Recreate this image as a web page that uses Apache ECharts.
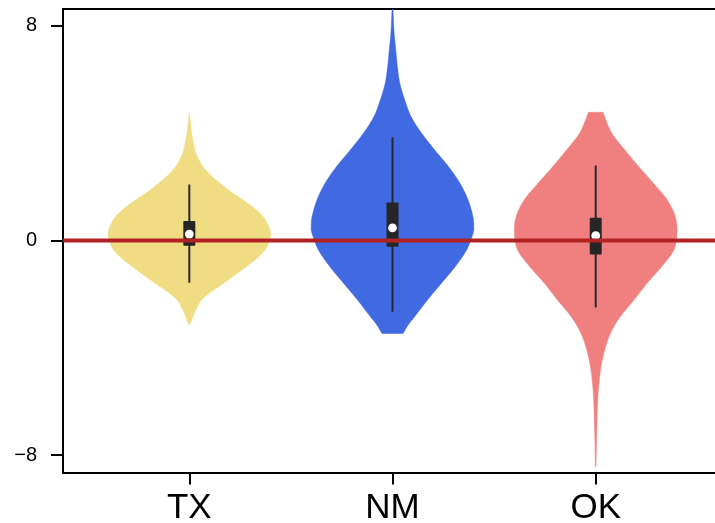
<!DOCTYPE html>
<html>
<head>
<meta charset="utf-8">
<script src="https://cdn.jsdelivr.net/npm/echarts@6/dist/echarts.min.js"></script>
<style>html,body{margin:0;padding:0;background:#fff;}#chart{width:715px;height:523px;}</style>
</head>
<body>
<div id="chart"></div>
<script>
// ---------- data ----------
const categories = ['TX', 'NM', 'OK'];
const yTicks = [-8, 0, 8];
const referenceValue = 0;

// violin outlines: value levels (top -> bottom) and relative density (1 = widest)
const txLevels  = [4.80, 4.49, 3.99, 3.37, 3.06, 2.75, 2.44, 2.13, 1.82, 1.51, 1.20, 0.88, 0.57, 0.26, -0.05, -0.36, -0.67, -0.98, -1.29, -1.60, -1.91, -2.22, -2.47, -2.72, -2.97, -3.16];
const txDensity = [0.00, 0.01, 0.03, 0.07, 0.11, 0.17, 0.26, 0.38, 0.51, 0.66, 0.80, 0.91, 0.97, 1.00, 0.98, 0.93, 0.83, 0.70, 0.56, 0.42, 0.27, 0.15, 0.10, 0.06, 0.03, 0.00];

const nmLevels  = [8.62, 8.34, 7.72, 7.10, 6.48, 5.86, 5.24, 4.61, 3.99, 3.37, 2.75, 2.13, 1.51, 0.88, 0.51, 0.26, -0.36, -0.98, -1.60, -2.22, -2.85, -3.16, -3.47];
const nmDensity = [0.006, 0.01, 0.02, 0.04, 0.06, 0.09, 0.15, 0.23, 0.36, 0.52, 0.69, 0.83, 0.93, 0.99, 1.00, 0.99, 0.91, 0.77, 0.60, 0.43, 0.27, 0.19, 0.13];

const okLevels  = [4.78, 4.61, 3.99, 3.37, 2.75, 2.13, 1.51, 0.88, 0.26, -0.36, -0.98, -1.60, -2.22, -2.85, -3.47, -4.09, -4.71, -5.33, -5.95, -7.20, -8.44];
const okDensity = [0.09, 0.11, 0.20, 0.36, 0.53, 0.71, 0.88, 0.98, 1.00, 0.96, 0.81, 0.63, 0.47, 0.30, 0.18, 0.11, 0.065, 0.04, 0.025, 0.012, 0.004];

// box summary per category
const whiskerLow  = [-1.58, -2.66, -2.50];
const quartile1   = [-0.20, -0.23, -0.52];
const medians     = [0.24, 0.47, 0.18];
const quartile3   = [0.73, 1.42, 0.85];
const whiskerHigh = [2.09, 3.85, 2.80];

// ---------- chart ----------
const levels = [txLevels, nmLevels, okLevels];
const densities = [txDensity, nmDensity, okDensity];
const colors = ['#F0DC82', '#4169E1', '#F08080'];
const maxHalf = 0.4;
const xMin = -0.6216, xMax = 2.587;
const FONT = '"Liberation Sans", Arial, sans-serif';

// smooth an outline (pixel space) with Catmull-Rom sampling, for drawing only
function smoothSide(p) {
  const out = [];
  const n = p.length;
  for (let i = 0; i < n - 1; i++) {
    const p0 = p[Math.max(0, i - 1)], p1 = p[i], p2 = p[i + 1], p3 = p[Math.min(n - 1, i + 2)];
    const c1 = [p1[0] + (p2[0] - p0[0]) / 6, p1[1] + (p2[1] - p0[1]) / 6];
    const c2 = [p2[0] - (p3[0] - p1[0]) / 6, p2[1] - (p3[1] - p1[1]) / 6];
    const steps = 10;
    for (let s = 0; s < steps; s++) {
      const t = s / steps, u = 1 - t;
      out.push([
        u*u*u*p1[0] + 3*u*u*t*c1[0] + 3*u*t*t*c2[0] + t*t*t*p2[0],
        u*u*u*p1[1] + 3*u*u*t*c1[1] + 3*u*t*t*c2[1] + t*t*t*p2[1]
      ]);
    }
  }
  out.push(p[n - 1]);
  return out;
}

const chart = echarts.init(document.getElementById('chart'), null, {renderer: 'canvas'});

const violinData = categories.map((c, i) => [i, 0]);
const boxData = categories.map((c, i) => [i, whiskerLow[i], quartile1[i], medians[i], quartile3[i], whiskerHigh[i]]);

chart.setOption({
  animation: false,
  backgroundColor: '#fff',
  grid: {left: 63, top: 9, right: 0, height: 463.5, containLabel: false, outerBoundsMode: 'none'},
  xAxis: [{
    type: 'value', min: xMin, max: xMax, position: 'bottom',
    splitLine: {show: false},
    axisLine: {show: true, onZero: false, lineStyle: {color: '#000', width: 2}},
    axisTick: {show: true, length: 12, lineStyle: {color: '#000', width: 2}, customValues: [0, 1, 2]},
    axisLabel: {
      customValues: [0, 1, 2], margin: 18, color: '#000', fontSize: 35, fontFamily: FONT,
      formatter: v => categories[Math.round(v)] || ''
    }
  }, {
    type: 'value', min: xMin, max: xMax, position: 'top',
    splitLine: {show: false},
    axisLine: {show: true, onZero: false, lineStyle: {color: '#000', width: 2}},
    axisTick: {show: false}, axisLabel: {show: false}
  }],
  yAxis: {
    type: 'value', min: -8.65, max: 8.63,
    splitLine: {show: false},
    axisLine: {show: true, onZero: false, lineStyle: {color: '#000', width: 2}},
    axisTick: {show: true, length: 12, lineStyle: {color: '#000', width: 2}, customValues: yTicks},
    axisLabel: {
      customValues: yTicks, margin: 26, color: '#000', fontSize: 20, fontFamily: FONT,
      formatter: v => v < 0 ? '\u2212' + (-v) : String(v)
    }
  },
  series: [
    {
      type: 'custom', z: 2, clip: true, silent: true,
      data: violinData, encode: {x: 0, y: 1},
      renderItem: (params, api) => {
        const i = api.value(0);
        const lv = levels[i], dn = densities[i];
        const right = [], left = [];
        for (let k = 0; k < lv.length; k++) {
          right.push(api.coord([i + dn[k] * maxHalf, lv[k]]));
          left.push(api.coord([i - dn[k] * maxHalf, lv[k]]));
        }
        const pts = smoothSide(right).concat(smoothSide(left).reverse());
        return {type: 'polygon', shape: {points: pts}, style: {fill: colors[i], stroke: colors[i], lineWidth: 0.5}};
      }
    },
    {
      type: 'custom', z: 3, clip: true, silent: true,
      data: boxData, encode: {x: 0, y: [1, 2, 3, 4, 5]},
      renderItem: (params, api) => {
        const i = api.value(0);
        const lo = api.coord([i, api.value(1)]);
        const q1 = api.coord([i, api.value(2)]);
        const md = api.coord([i, api.value(3)]);
        const q3 = api.coord([i, api.value(4)]);
        const hi = api.coord([i, api.value(5)]);
        const bw = 12;
        return {
          type: 'group',
          children: [
            {type: 'line', shape: {x1: lo[0], y1: lo[1], x2: hi[0], y2: hi[1]}, style: {stroke: '#2a2a2a', lineWidth: 2}},
            {type: 'rect', shape: {x: q3[0] - bw / 2, y: q3[1], width: bw, height: q1[1] - q3[1], r: 1}, style: {fill: '#262626'}},
            {type: 'circle', shape: {cx: md[0], cy: md[1], r: 4.4}, style: {fill: '#fff'}}
          ]
        };
      }
    },
    {
      type: 'line', z: 5, silent: true, showSymbol: false, symbol: 'none',
      data: [[xMin, referenceValue], [xMax, referenceValue]],
      lineStyle: {color: '#B22222', width: 4}
    }
  ]
});
</script>
</body>
</html>
